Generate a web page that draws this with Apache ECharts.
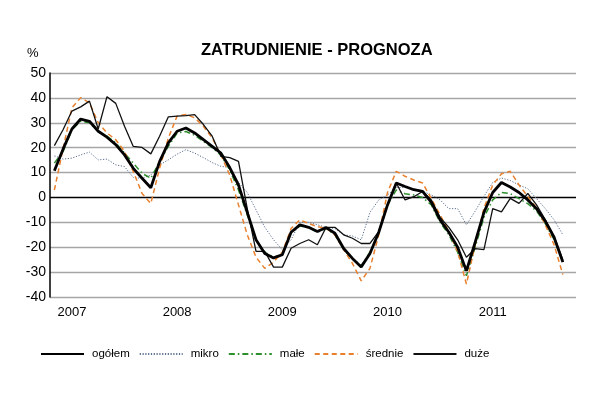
<!DOCTYPE html>
<html>
<head>
<meta charset="utf-8">
<script src="https://cdn.jsdelivr.net/npm/echarts@6/dist/echarts.min.js"></script>
<style>
html,body{margin:0;padding:0;background:#fff;}
#chart{width:599px;height:396px;}
</style>
</head>
<body>
<div id="chart"></div>
<script>
// Months Nov 2006 .. Oct 2011 (60 categories, 59 data points)
const startYear = 2006, startMonth = 11, nCats = 60;
const yearTicks = ['2007','2008','2009','2010','2011'];
const categories = [];
for (let k = 0; k < nCats; k++) {
  const m0 = startMonth - 1 + k;
  const y = startYear + Math.floor(m0 / 12);
  const m = (m0 % 12) + 1;
  categories.push(y + '-' + (m < 10 ? '0' + m : m));
}

const ogolem = [10.7,19.5,27.5,31.5,30.6,26.6,24.2,21.2,17.1,11.7,7.7,3.9,14.4,21.9,26.6,
  27.9,25.9,23.2,20.5,17.8,12,5,-6,-17,-22.5,-24.3,-23,-14,-11,-12,-13.7,-12.1,-14.4,-20.5,
  -24.5,-27.9,-22.5,-14,-3,5.8,4.4,3.1,2.4,-2,-9,-14,-20,-29.5,-18,-6,2,6,4.2,2,-1,-4.5,-9.5,-16,-26];
const mikro = [16.7,15.4,15.8,17.1,18.2,15.1,15.4,13.1,12.4,8.0,7.7,9.0,13.1,15.1,17.4,
  19.2,17.8,16,14,12.5,12,6,2,-5,-12,-17,-21,-17,
  -10,-10,-11,-12,-12.5,-15,-15.5,-17,-6,-1,1,4,4,3.5,2.5,1,
  -1,-4.5,-4.5,-11,-5.5,0.5,6,7.8,6.8,5,3.5,-0.5,-4.5,-9,-15];
const male = [13.8,18.5,27.3,30.6,30,26.6,24.6,21.9,17.8,13.8,9.7,7.7,14.4,20.5,25.9,
  26.5,25,22.5,20,17,11,3,-7,-17,-22,-24,-23,-14,-11.5,-12,-14,-12.5,-15,-21,-24.5,-27.5,
  -22,-14,-3,3,1.5,1,0,-3,-10,-15,-22,-31.5,-20,-8,-1,2,1.5,-0.5,-2.5,-5.5,-10.5,-17,-25.5];
const srednie = [3,19.8,36,40.1,38,30,25.9,23.2,18.5,10.4,1.6,-2.4,11.7,23.9,32.7,
  33.3,32,28.6,23.9,17.1,9,-3,-15,-24,-28.5,-26,-22,-12.5,-9,-10.5,-11.7,-12.4,-15,-21,-26.5,
  -33.5,-28.5,-15,2,10.5,8.5,7,5.8,-0.5,-7,-13.7,-21.8,-34.8,-19,-4.3,5,9.5,10.5,5,0.4,-4.3,-11,-19,-31];
const duze = [20.8,27.3,34.7,36.4,38.7,27.5,40.5,37.8,28.6,20.5,20.1,17.5,24.6,32.4,32.7,
  32.9,33.3,29.3,24.6,16.5,16,14.5,-4.5,-21.7,-21.7,-28,-28,-20.4,-18.5,-17,-19,-12,-12,-15,
  -16.4,-18.5,-18.5,-13.7,-3,5.8,-1,0.3,2.4,-1,-8,-12,-17,-24,-20.6,-21,-4.5,-5.8,-0.4,-2.4,1.6,-3,-9,-15.8,-25];

const FONT = 'Liberation Sans, Arial, sans-serif';
const chart = echarts.init(document.getElementById('chart'), null, {renderer:'canvas'});
const gridGray = '#a6a6a6';
const splitColors = [gridGray,gridGray,gridGray,gridGray,'#000000',gridGray,gridGray,gridGray,gridGray,gridGray];

function line(name, data, color, width, type, z) {
  return {
    name: name, type: 'line', data: data, symbol: 'none', smooth: false, z: z,
    lineStyle: {color: color, width: width, type: type},
    itemStyle: {color: color},
    emphasis: {disabled: true}
  };
}

chart.setOption({
  animation: false,
  backgroundColor: '#ffffff',
  textStyle: {fontFamily: FONT},
  title: {
    text: 'ZATRUDNIENIE - PROGNOZA',
    left: 196, top: 37,
    textStyle: {fontFamily: FONT, fontSize: 16.5, fontWeight: 'bold', color: '#000'}
  },
  graphic: [{
    type: 'text', left: 27, top: 47,
    style: {text: '%', font: '13px ' + FONT, fill: '#000'}
  }],
  legend: {
    left: 35, top: 343,
    itemWidth: 43, itemHeight: 10, itemGap: 9,
    itemStyle: {opacity: 0},
    textStyle: {fontFamily: FONT, fontSize: 11.5, color: '#000', padding: [0,0,0,3]},
    data: ['ogółem','mikro','małe','średnie','duże']
  },
  grid: {left: 50, right: 23, top: 73, bottom: 99, containLabel: false},
  xAxis: {
    type: 'category', data: categories, boundaryGap: true,
    axisLine: {show: false}, axisTick: {show: false},
    axisLabel: {
      interval: function (idx, val) { return yearTicks.indexOf(val.slice(0,4)) >= 0 && val.slice(5) === '01'; },
      formatter: function (val) { return val.slice(0,4); },
      fontFamily: FONT, fontSize: 13, color: '#000', margin: 9
    },
    splitLine: {show: false}
  },
  yAxis: {
    type: 'value', min: -40, max: 50, interval: 10,
    axisLine: {show: true, lineStyle: {color: '#000', width: 1.5}},
    axisTick: {show: false},
    axisLabel: {fontFamily: FONT, fontSize: 14, color: '#000', margin: 4},
    splitLine: {show: true, lineStyle: {color: splitColors, width: 1.3}}
  },
  series: [
    line('mikro', mikro, '#5b6f8f', 1, [1.2,1.6], 1),
    line('małe', male, '#2f8f2f', 1.5, [6,3,1.5,3], 2),
    line('średnie', srednie, '#e8802e', 1.5, [5,3.5], 3),
    line('duże', duze, '#111111', 1.3, 'solid', 4),
    line('ogółem', ogolem, '#000000', 2.8, 'solid', 5)
  ]
});
</script>
</body>
</html>
